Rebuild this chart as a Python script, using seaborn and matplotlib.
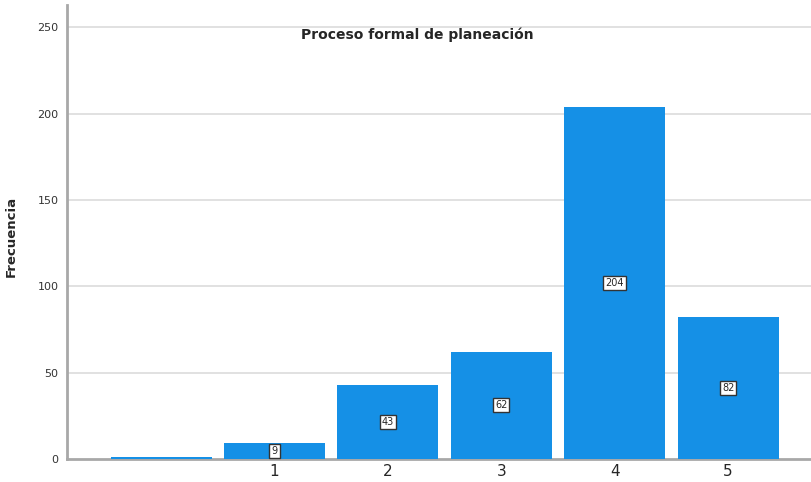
import matplotlib
matplotlib.use("Agg")
import matplotlib.pyplot as plt
import seaborn as sns
import pandas as pd

# Frecuencias por respuesta (la primera categoría es la de perdidos, sin etiqueta)
categorias = ["", "1", "2", "3", "4", "5"]
frecuencias = [1, 9, 43, 62, 204, 82]
etiquetas = ["", "9", "43", "62", "204", "82"]
yticks = [0, 50, 100, 150, 200, 250]

df = pd.DataFrame({"categoria": categorias, "frecuencia": frecuencias})

sns.set_style("white")
plt.rcParams["font.family"] = ["DejaVu Sans"]

fig = plt.figure(figsize=(8.12, 4.82), dpi=100)
ax = fig.add_axes([0.0825, 0.048, 0.9175, 0.942])

sns.barplot(data=df, x="categoria", y="frecuencia", color="#1590E6",
            saturation=1, width=0.89, linewidth=0, ax=ax, zorder=3)

# gridlines
for t in yticks[1:]:
    ax.axhline(t, color="#dcdcdc", lw=1.2, zorder=1)

ax.set_xlim(-0.83, 5.74)
ax.set_ylim(0, 263)
ax.set_yticks(yticks)
ax.tick_params(axis="y", labelsize=8, length=0, pad=6, colors="#333333")
ax.tick_params(axis="x", labelsize=11, length=0, pad=4)

for side in ["top", "right"]:
    ax.spines[side].set_visible(False)
ax.spines["left"].set_color("#a8a8a8")
ax.spines["left"].set_linewidth(2)
ax.spines["bottom"].set_color("#a8a8a8")
ax.spines["bottom"].set_linewidth(2)
ax.spines["bottom"].set_zorder(2)

ax.set_xlabel("")
ax.set_ylabel("Frecuencia", fontsize=9.5, fontweight="bold")
ax.yaxis.set_label_coords(-0.066, 0.49)

ax.text(0.47, 0.935, "Proceso formal de planeación", transform=ax.transAxes,
        ha="center", va="center", fontsize=10, fontweight="bold")

# etiquetas con caja en el centro de cada barra
for i, (v, lab) in enumerate(zip(frecuencias, etiquetas)):
    if lab:
        ax.text(i, v / 2, lab, ha="center", va="center", fontsize=7, zorder=5,
                bbox=dict(boxstyle="square,pad=0.2", fc="white", ec="#333333", lw=1))

fig.savefig("out.png", dpi=100)
